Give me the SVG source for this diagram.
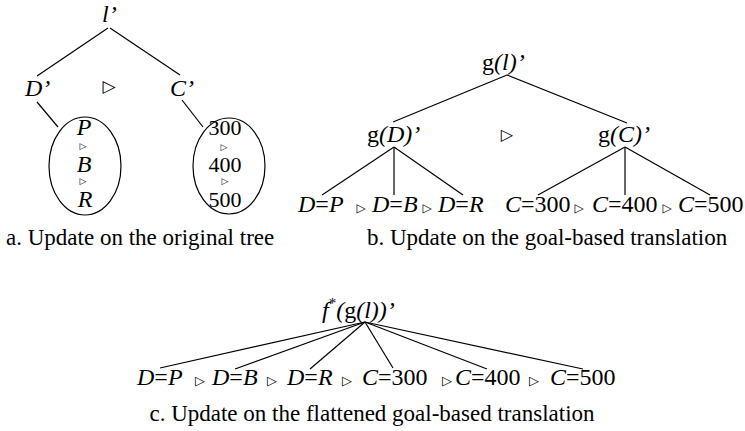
<svg xmlns="http://www.w3.org/2000/svg" width="745" height="431" viewBox="0 0 745 431">
  <style>
    .lbl { font-family: "Liberation Serif", "Times New Roman", serif; font-size: 24px; fill: #000; }
    .num { font-family: "Liberation Serif", "Times New Roman", serif; font-size: 22px; fill: #000; }
    .it { font-style: italic; }
    .tri { font-family: "DejaVu Sans", sans-serif; fill: #000; text-anchor: middle; }
    .cap { font-family: "Liberation Serif", "Times New Roman", serif; font-size: 23px; fill: #000; }
    .edge { stroke: #000; stroke-width: 1.2; fill: none; }
    .set { stroke: #000; stroke-width: 1.2; fill: none; }
  </style>
  <rect width="745" height="431" fill="#fff"/>

  <!-- connectors -->
  <g id="edges" class="edge">
    <!-- a: original tree -->
    <line x1="108" y1="28" x2="37" y2="76"/>
    <line x1="110" y1="28" x2="180" y2="75"/>
    <line x1="37" y1="102" x2="58" y2="127"/>
    <line x1="182" y1="100" x2="203" y2="127"/>
    <!-- b: goal-based translation -->
    <line x1="507" y1="75" x2="393" y2="122"/>
    <line x1="507" y1="75" x2="627" y2="123"/>
    <line x1="394" y1="147" x2="322" y2="195"/>
    <line x1="394" y1="147" x2="394" y2="195"/>
    <line x1="394" y1="147" x2="463" y2="195"/>
    <line x1="625" y1="147" x2="538" y2="195"/>
    <line x1="625" y1="147" x2="625" y2="195"/>
    <line x1="625" y1="147" x2="710" y2="195"/>
    <!-- c: flattened translation -->
    <line x1="365" y1="322" x2="160" y2="368"/>
    <line x1="365" y1="322" x2="235" y2="369"/>
    <line x1="365" y1="322" x2="310" y2="369"/>
    <line x1="365" y1="322" x2="393" y2="368"/>
    <line x1="365" y1="322" x2="487" y2="369"/>
    <line x1="365" y1="322" x2="583" y2="369"/>
  </g>

  <!-- a. original tree -->
  <g id="a-root"><text class="lbl it" x="102" y="22">l’</text></g>
  <g id="a-D"><text class="lbl it" x="25" y="96">D’</text></g>
  <g id="a-order"><text class="tri" x="109" y="92" font-size="17">▷</text></g>
  <g id="a-C"><text class="lbl it" x="170" y="96">C’</text></g>
  <g id="a-Dset">
    <ellipse class="set" cx="85" cy="166" rx="36" ry="49"/>
    <text class="lbl it" x="84" y="135" text-anchor="middle">P</text>
    <text class="tri" x="83" y="149" font-size="9">▷</text>
    <text class="lbl it" x="84" y="172" text-anchor="middle">B</text>
    <text class="tri" x="83" y="184" font-size="9">▷</text>
    <text class="lbl it" x="85" y="207" text-anchor="middle">R</text>
  </g>
  <g id="a-Cset">
    <ellipse class="set" cx="229" cy="166" rx="36" ry="48"/>
    <text class="num" x="225" y="135" text-anchor="middle">300</text>
    <text class="tri" x="224" y="150" font-size="9">▷</text>
    <text class="num" x="225" y="172" text-anchor="middle">400</text>
    <text class="tri" x="225" y="184" font-size="9">▷</text>
    <text class="num" x="225" y="207" text-anchor="middle">500</text>
  </g>

  <!-- b. goal-based translation -->
  <g id="b-root"><text class="lbl" x="482" y="70">g<tspan class="it">(l)’</tspan></text></g>
  <g id="b-gD"><text class="lbl" x="367" y="142">g<tspan class="it">(D)’</tspan></text></g>
  <g id="b-order"><text class="tri" x="507" y="140" font-size="16">▷</text></g>
  <g id="b-gC"><text class="lbl" x="598" y="142">g<tspan class="it">(C)’</tspan></text></g>
  <g id="b-DP"><text class="lbl" x="298" y="212"><tspan class="it">D</tspan>=<tspan class="it">P</tspan></text></g>
  <text class="tri" x="361" y="212" font-size="12">▷</text>
  <g id="b-DB"><text class="lbl" x="372" y="212"><tspan class="it">D</tspan>=<tspan class="it">B</tspan></text></g>
  <text class="tri" x="427" y="212" font-size="12">▷</text>
  <g id="b-DR"><text class="lbl" x="438" y="212"><tspan class="it">D</tspan>=<tspan class="it">R</tspan></text></g>
  <g id="b-C300"><text class="lbl" x="505" y="212"><tspan class="it">C</tspan>=300</text></g>
  <text class="tri" x="579" y="212" font-size="12">▷</text>
  <g id="b-C400"><text class="lbl" x="592" y="212"><tspan class="it">C</tspan>=400</text></g>
  <text class="tri" x="667" y="212" font-size="12">▷</text>
  <g id="b-C500"><text class="lbl" x="678" y="212"><tspan class="it">C</tspan>=500</text></g>

  <!-- c. flattened goal-based translation -->
  <g id="c-root"><text class="lbl" x="322" y="318"><tspan class="it">f</tspan><tspan font-size="15" dy="-10">*</tspan><tspan dy="10" class="it">(</tspan>g<tspan class="it">(l))’</tspan></text></g>
  <g id="c-DP"><text class="lbl" x="137" y="385"><tspan class="it">D</tspan>=<tspan class="it">P</tspan></text></g>
  <text class="tri" x="200" y="385" font-size="13">▷</text>
  <g id="c-DB"><text class="lbl" x="212" y="385"><tspan class="it">D</tspan>=<tspan class="it">B</tspan></text></g>
  <text class="tri" x="272" y="385" font-size="13">▷</text>
  <g id="c-DR"><text class="lbl" x="287" y="385"><tspan class="it">D</tspan>=<tspan class="it">R</tspan></text></g>
  <text class="tri" x="347" y="385" font-size="13">▷</text>
  <g id="c-C300"><text class="lbl" x="362" y="385"><tspan class="it">C</tspan>=300</text></g>
  <text class="tri" x="447" y="385" font-size="13">▷</text>
  <g id="c-C400"><text class="lbl" x="455" y="385"><tspan class="it">C</tspan>=400</text></g>
  <text class="tri" x="534" y="385" font-size="13">▷</text>
  <g id="c-C500"><text class="lbl" x="550" y="385"><tspan class="it">C</tspan>=500</text></g>

  <!-- captions -->
  <text class="cap" x="6" y="245" font-size="20.5">a. Update on the original tree</text>
  <text class="cap" x="367" y="245" font-size="23.5">b. Update on the goal-based translation</text>
  <text class="cap" x="372" y="421" text-anchor="middle">c. Update on the flattened goal-based translation</text>
</svg>
